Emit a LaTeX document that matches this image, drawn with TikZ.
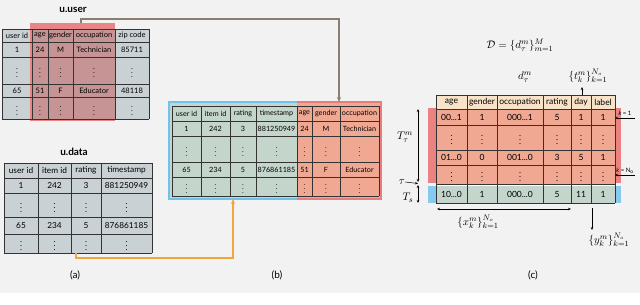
\documentclass[tikz,border=0pt]{standalone}
\usepackage{fontspec}
\setmainfont{Lato}
\usetikzlibrary{arrows.meta}
\definecolor{bg}{HTML}{F2F2F2}
\definecolor{gcell}{HTML}{C9D1D4}
\definecolor{ovred}{HTML}{EA8585}
\definecolor{cellred}{HTML}{C69494}
\definecolor{bgreen}{HTML}{C4D6CB}
\definecolor{bsalmon}{HTML}{F1A892}
\definecolor{bblue}{HTML}{6FC2EA}
\definecolor{bredline}{HTML}{EC7B7B}
\definecolor{cream}{HTML}{F8E3C8}
\definecolor{bandred}{HTML}{EA8282}
\definecolor{bandblue}{HTML}{86CBEF}
\definecolor{browncon}{HTML}{8C7E6E}
\definecolor{orangecon}{HTML}{F2A53A}
\newcommand\vd{$\vdots$}
\newcommand\ddd{...}
\newcommand\trow[4]{\foreach \cx/\ct [count=\ci] in {#4}{\node[#3] (#1-\ci) at (\cx,#2) {\ct};}}
\newcommand\tgrid[6]{%
  \foreach \gx in {#1} {\draw[gridl] (\gx,#2) -- (\gx,#3);}
  \foreach \gy in {#4} {\draw[gridl] (#5,\gy) -- (#6,\gy);}}
\tikzset{
  gridl/.style={draw=black!80, line width=0.6pt},
  box/.style={rectangle, inner sep=0pt, outer sep=0pt},
  ta/.style={inner sep=0pt, font=\fontsize{7.5}{8}\selectfont},
  tu/.style={inner sep=0pt, font=\fontsize{8.3}{9}\selectfont},
  tb/.style={inner sep=0pt, font=\fontsize{7.2}{8}\selectfont},
  tc/.style={inner sep=0pt, font=\fontsize{8.5}{9}\selectfont},
  ttl/.style={inner sep=0pt, font=\fontsize{10}{11}\selectfont\bfseries},
  sub/.style={inner sep=0pt, font=\fontsize{10}{11}\selectfont},
  mlab/.style={inner sep=0pt, font=\fontsize{11}{13}\selectfont},
  klab/.style={inner sep=0pt, font=\fontsize{6}{7}\selectfont},
  conn/.style={line width=1.3pt, -{Stealth[length=5pt,width=4pt]}},
  sarr/.style={line width=0.5pt, -{Stealth[length=3pt,width=2.5pt]}},
  dbl/.style={line width=0.5pt, {Stealth[length=3pt,width=2.5pt]}-{Stealth[length=3pt,width=2.5pt]}},
}
\begin{document}
\begin{tikzpicture}[x=1pt,y=-1pt]
\useasboundingbox (0,0) rectangle (640,305);
\fill[white] (0,0) rectangle (640,305);
\fill[bg] (0,0) rectangle (640,293);

% ---------- u.user ----------
\node[ttl] (uutitle) at (73,10) {u.user};
\fill[gcell] (2,29) rectangle (149,119);
\node[box, fill=ovred, minimum width=85pt, minimum height=97.4pt] (uured) at (72.5,72) {};
\fill[cellred] (32,29) rectangle (115,119);
\tgrid{2,32,48,73,115,149}{29}{119}{29,42,57,84,97,119}{2}{149}
\trow{uuh}{35.5}{ta}{17/user id,40/age,60.5/gender,94/occupation,132/zip code}
\trow{uua}{49.5}{ta}{17/1,40/24,60.5/M,94/Technician,132/85711}
\trow{uub}{70.5}{ta}{17/\vd,40/\vd,60.5/\vd,94/\vd,132/\vd}
\trow{uuc}{90.5}{ta}{17/65,40/51,60.5/F,94/Educator,132/48118}
\trow{uud}{108}{ta}{17/\vd,40/\vd,60.5/\vd,94/\vd,132/\vd}

% ---------- u.data ----------
\node[ttl] (udtitle) at (74,152) {u.data};
\node[box, fill=gcell, minimum width=148pt, minimum height=90pt] (ud) at (78,208) {};
\tgrid{4,38,71,101,152}{163}{253}{163,178,193,217,234,253}{4}{152}
\trow{udh}{170.5}{tu}{21/user id,54.5/item id,86/rating,126.5/timestamp}
\trow{uda}{185.5}{tu}{21/1,54.5/242,86/3,126.5/881250949}
\trow{udb}{205}{tu}{21/\vd,54.5/\vd,86/\vd,126.5/\vd}
\trow{udc}{225.5}{tu}{21/65,54.5/234,86/5,126.5/876861185}
\trow{udd}{243.5}{tu}{21/\vd,54.5/\vd,86/\vd,126.5/\vd}

% ---------- (b) ----------
\node[box, fill=bgreen, minimum width=128pt, minimum height=97pt] (bb) at (233,150.5) {};
\node[box, fill=bsalmon, minimum width=84pt, minimum height=97pt] (br) at (339,150.5) {};
\tgrid{172,201,230,256,297,312,340,379}{106}{196}{106,121,136,162,177,196}{172}{379}
\draw[bredline, line width=2.2pt] (297,102) -- (br.north east) -- (br.south east) -- (297,199);
\draw[bblue, line width=2.2pt] (297,102) -- (bb.north west) -- (bb.south west) -- (297,199);
\trow{bh}{113.5}{tb}{186.5/user id,215.5/item id,243/rating,276.5/timestamp,304.5/age,326/gender,359.5/occupation}
\trow{ba}{128.5}{tb}{186.5/1,215.5/242,243/3,276.5/881250949,304.5/24,326/M,359.5/Technician}
\trow{bv}{149}{tb}{186.5/\vd,215.5/\vd,243/\vd,276.5/\vd,304.5/\vd,326/\vd,359.5/\vd}
\trow{bc}{169.5}{tb}{186.5/65,215.5/234,243/5,276.5/876861185,304.5/51,326/F,359.5/Educator}
\trow{bd}{186.5}{tb}{186.5/\vd,215.5/\vd,243/\vd,276.5/\vd,304.5/\vd,326/\vd,359.5/\vd}

% connectors
\draw[conn, browncon] ([xshift=8.5pt]uured.north) -- ++(0,-4.3) -| (br.north);
\draw[conn, orangecon] ([xshift=-2pt]ud.south) -- ++(0,5) -| (bb.south);

% ---------- (c) ----------
\node[mlab] (Dset) at (520,45) {$\mathcal{D}=\{d^m_\tau\}^M_{m=1}$};
\node[mlab] (dtm) at (525,77) {$d^m_\tau$};
\node[mlab] (tl) at (588,76) {$\{t^m_k\}^{N_o}_{k=1}$};
\node[box, fill=bandred, minimum width=193pt, minimum height=75pt] (redband) at (524.5,145.5) {};
\node[box, fill=bandblue, minimum width=193pt, minimum height=17pt] (blueband) at (524.5,194.5) {};
\node[box, minimum width=179pt, minimum height=108pt] (ctab) at (525.5,149) {};
\fill[cream] (436,95) rectangle (615,109);
\fill[bsalmon] (436,109) rectangle (615,184);
\fill[white] (436,184) rectangle (615,186);
\fill[bgreen] (436,186) rectangle (615,203);
\tgrid{436,467,497,543,571,591,615}{95}{203}{95,109,125,150,165,184,203}{436}{615}
\trow{ch}{102}{tc}{451.5/age,482/gender,520/occupation,557/rating,581/day,603/label}
\trow{ca}{117}{tc}{451.5/00\ddd 1,482/1,520/000\ddd 1,557/5,581/1,603/1}
\trow{cv}{137.5}{tc}{451.5/\vd,482/\vd,520/\vd,557/\vd,581/\vd,603/\vd}
\trow{cb}{157.5}{tc}{451.5/01\ddd 0,482/0,520/001\ddd 0,557/3,581/5,603/1}
\trow{cw}{174.5}{tc}{451.5/\vd,482/\vd,520/\vd,557/\vd,581/\vd,603/\vd}
\trow{cc}{194.5}{tc}{451.5/10\ddd 0,482/1,520/000\ddd 0,557/5,581/11,603/1}

% arrows of (c)
\coordinate (Ttop) at (418,109);
\coordinate (tauU) at (418,182);
\coordinate (tau) at (418,183.5);
\coordinate (tauD) at (418,185);
\coordinate (Tsbot) at (418,203);
\draw[dbl] (Ttop) -- (tauU);
\draw[dbl] (tauD) -- (Tsbot);
\node[mlab] (Tl) at (405,137) {$T^m_\tau$};
\node[mlab] (taul) at (402,182) {$\tau$};
\draw[sarr] (taul.east) -- (tau);
\node[mlab] (Tsl) at (408,198) {$T_s$};
\coordinate (tbase) at (582,95);
\coordinate (ttip) at (582,87);
\draw[sarr] (tbase) -- (ttip);
\node[klab] (k1) at (625,113) {\textit{k} = 1};
\coordinate (k1s) at (635,118);
\draw[sarr] (k1s) -- (k1s -| ctab.east);
\node[klab] (kN) at (625,171) {\textit{k} = N\textsubscript{o}};
\coordinate (kNs) at (635,175);
\draw[sarr] (kNs) -- (kNs -| ctab.east);
\coordinate (xl0) at (437,209);
\coordinate (xr0) at (571,209);
\draw[dbl] (xl0) -- (xr0);
\node[mlab] (xl) at (478,222) {$\{x^m_k\}^{N_o}_{k=1}$};
\coordinate (ytop) at (592,208);
\coordinate (ybot) at (592,230);
\draw[sarr] (ytop) -- (ybot);
\node[mlab] (yl) at (609,240) {$\{y^m_k\}^{N_o}_{k=1}$};

% sub-figure labels
\node[sub] (la) at (75,275) {(a)};
\node[sub] (lb) at (277,275) {(b)};
\node[sub] (lc) at (533,275) {(c)};
\end{tikzpicture}
\end{document}
